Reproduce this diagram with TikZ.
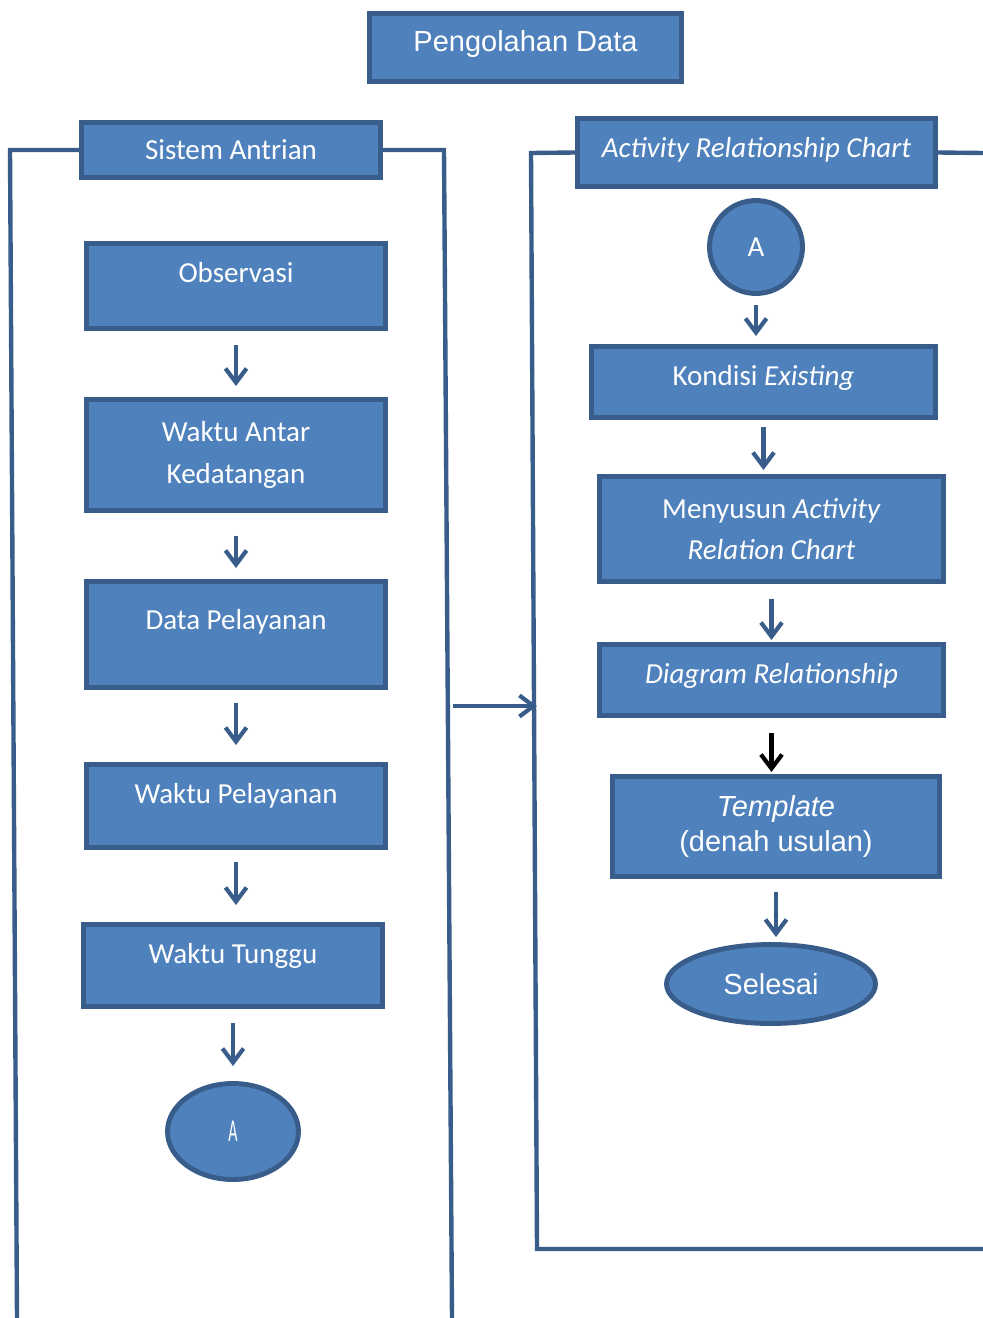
\documentclass[tikz,border=0pt]{standalone}
\usepackage{fontspec}
\setmainfont{Carlito}
\newfontfamily\arial{Liberation Sans}
\usetikzlibrary{arrows.meta,shapes.geometric}
\definecolor{isi}{HTML}{4F81BD}
\definecolor{garis}{HTML}{385D8A}
\begin{document}
\begin{tikzpicture}[x=0.02cm,y=-0.02cm,
  kotak/.style={draw=garis,fill=isi,line width=2.8pt,text=white,inner sep=0pt,align=center,
    font=\fontsize{16.5}{23.5}\selectfont},
  naik/.style={text height=11pt,text depth={0.6pt+#1*1.135pt}},
  lingkar/.style={kotak,ellipse},
  bingkai/.style={draw=garis,line width=2.5pt},
  alir/.style={draw=garis,line width=2.4pt,-{Straight Barb[length=8pt,width=12pt]}}]
\useasboundingbox (0,0) rectangle (983,1318);
\node[kotak,naik=5.5,font=\arial\fontsize{16.5}{20}\selectfont,minimum width=6.24cm,minimum height=1.36cm] (judul) at (525.5,47.5) {Pengolahan Data};
% kolom kiri
\node[kotak,naik=-3,minimum width=5.98cm,minimum height=1.10cm] (sistem) at (231,150) {Sistem Antrian};
\node[kotak,naik=13,minimum width=5.98cm,minimum height=1.70cm] (obs) at (236,286) {Observasi};
\node[kotak,minimum width=5.98cm,minimum height=2.22cm] (wak) at (236,455) {Waktu Antar\\Kedatangan};
\node[kotak,naik=14.5,minimum width=5.98cm,minimum height=2.12cm] (data) at (236,634.5) {Data Pelayanan};
\node[kotak,naik=12,minimum width=5.98cm,minimum height=1.66cm] (wp) at (236,806) {Waktu Pelayanan};
\node[kotak,naik=11.5,minimum width=5.98cm,minimum height=1.64cm] (wt) at (233,965.5) {Waktu Tunggu};
\node[lingkar,minimum width=2.62cm,minimum height=1.92cm] (akhirA) at (233,1131.5) {\scalebox{0.55}[1.1]{A}};
% kolom kanan
\node[kotak,naik=4.5,minimum width=7.16cm,minimum height=1.36cm] (arc) at (756.5,152.5) {\textit{Activity Relationship Chart}};
\node[kotak,circle,minimum size=1.86cm] (awalA) at (756,247) {A};
\node[kotak,naik=6,minimum width=6.88cm,minimum height=1.42cm] (kon) at (763.5,382) {Kondisi \textit{Existing}};
\node[kotak,minimum width=6.88cm,minimum height=2.10cm] (men) at (771.5,529) {Menyusun \textit{Activity}\\\textit{Relation Chart}};
\node[kotak,naik=6,minimum width=6.88cm,minimum height=1.42cm] (dia) at (771.5,680) {\textit{Diagram Relationship}};
\node[kotak,font=\arial\fontsize{16.5}{19.5}\selectfont,minimum width=6.54cm,minimum height=2.00cm] (tpl) at (776,826.5) {\textit{Template}\\(denah usulan)};
\node[lingkar,font=\arial\fontsize{16.5}{20}\selectfont,minimum width=4.18cm,minimum height=1.58cm] (sel) at (771,984) {Selesai};
% bingkai
\coordinate (kiriA) at (17,1318);
\coordinate (kiriB) at (452,1318);
\coordinate (kananA) at (983,1249);
\coordinate (kananB) at (983,153);
\draw[bingkai] (sistem.west) -- (10,150) -- (kiriA);
\draw[bingkai] (sistem.east) -- (444,150) -- (kiriB);
\draw[bingkai] (arc.west) -- (531,153) -- (537,1249) -- (kananA);
\draw[bingkai] (arc.east) -- (kananB);
\coordinate (lintasAwal) at (453,706);
\coordinate (lintasAkhir) at (537,706);
\draw[alir] (lintasAwal) -- (lintasAkhir);
% panah
\foreach \a/\b/\s/\e in {obs/wak/14/11,wak/data/23/11,data/wp/13/17,wp/wt/12/17,wt/akhirA/14/15,
  awalA/kon/9/8,kon/men/7/4,men/dia/15/2,tpl/sel/13/5}
  \draw[alir,shorten <={\s*0.02cm},shorten >={\e*0.02cm}] (\a.south) -- (\a.south |- \b.north);
\draw[alir,draw=black,shorten <=0.3cm,shorten >=0.04cm] (dia.south) -- (dia.south |- tpl.north);
\end{tikzpicture}
\end{document}
